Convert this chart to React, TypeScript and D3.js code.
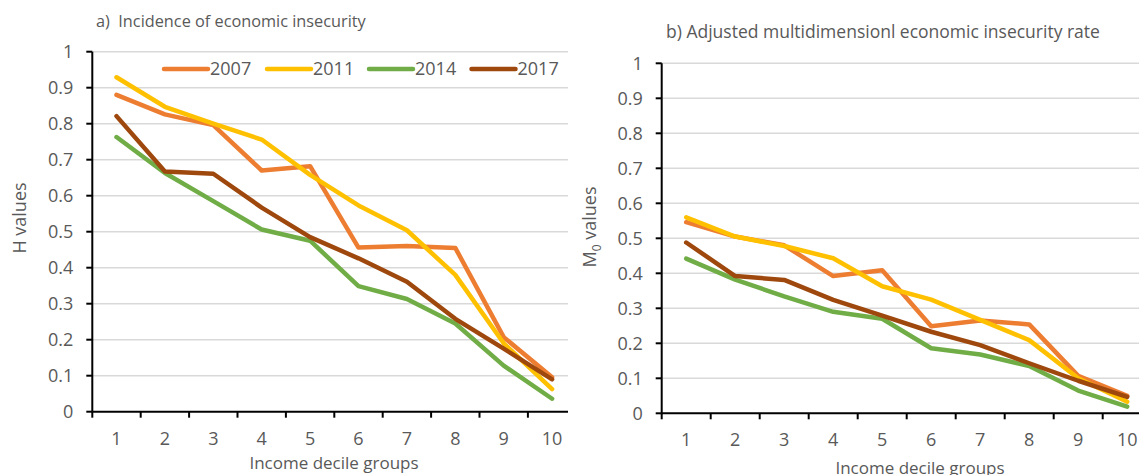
import React from "react";
import * as d3 from "d3";

const categories = ["1", "2", "3", "4", "5", "6", "7", "8", "9", "10"];
const years = ["2007", "2011", "2014", "2017"];
const yTicks = [0, 0.1, 0.2, 0.3, 0.4, 0.5, 0.6, 0.7, 0.8, 0.9, 1];

const h2007 = [0.88, 0.826, 0.796, 0.67, 0.682, 0.456, 0.46, 0.455, 0.207, 0.096];
const h2011 = [0.929, 0.847, 0.8, 0.756, 0.658, 0.573, 0.504, 0.38, 0.19, 0.063];
const h2014 = [0.763, 0.663, 0.585, 0.506, 0.475, 0.349, 0.313, 0.245, 0.128, 0.036];
const h2017 = [0.821, 0.667, 0.661, 0.567, 0.485, 0.426, 0.361, 0.258, 0.175, 0.09];

const m2007 = [0.546, 0.505, 0.48, 0.392, 0.409, 0.249, 0.265, 0.254, 0.107, 0.05];
const m2011 = [0.56, 0.505, 0.478, 0.443, 0.363, 0.325, 0.267, 0.209, 0.1, 0.033];
const m2014 = [0.442, 0.382, 0.334, 0.29, 0.27, 0.186, 0.168, 0.135, 0.065, 0.019];
const m2017 = [0.488, 0.392, 0.381, 0.324, 0.279, 0.233, 0.195, 0.143, 0.093, 0.047];

const colors = ["#ED7D31", "#FFC000", "#70AD47", "#9E480E"];
const FONT = "'Open Sans', 'DejaVu Sans', sans-serif";
const TXT = "#595959";

type PanelProps = {
  id: string;
  axisX: number;
  step: number;
  yTop: number;
  yBottom: number;
  clipRight: number;
  series: number[][];
  title: string;
  titleX: number;
  titleY: number;
  titleSize: number;
  yLabel: React.ReactNode;
  yLabelX: number;
  yLabelY: number;
  xLabelX: number;
  xLabelY: number;
  legend?: boolean;
};

function Panel(p: PanelProps) {
  const x = d3
    .scaleBand<string>()
    .domain(categories)
    .range([p.axisX, p.axisX + categories.length * p.step])
    .paddingInner(0)
    .paddingOuter(0);
  const y = d3.scaleLinear().domain([0, 1]).range([p.yBottom, p.yTop]);
  const cx = (c: string) => (x(c) as number) + x.bandwidth() / 2;
  const line = d3
    .line<number>()
    .x((_, i) => cx(categories[i]))
    .y((d) => y(d));
  const xEnd = p.axisX + categories.length * p.step;
  const boundaries = d3.range(categories.length + 1).map((k) => p.axisX + k * p.step);

  return (
    <g>
      <defs>
        <clipPath id={p.id}>
          <rect x={0} y={0} width={p.clipRight} height={475} />
        </clipPath>
      </defs>
      <text
        x={p.titleX}
        y={p.titleY}
        fontFamily={FONT}
        fontSize={p.titleSize}
        fill={TXT}
        style={{ whiteSpace: "pre" }}
      >
        {p.title}
      </text>
      <g clipPath={`url(#${p.id})`}>
        {yTicks.slice(1).map((t) => (
          <line key={t} x1={p.axisX} x2={xEnd} y1={y(t)} y2={y(t)} stroke="#D9D9D9" strokeWidth={1.5} />
        ))}
        {p.series.map((s, i) => (
          <path
            key={i}
            d={line(s) || ""}
            fill="none"
            stroke={colors[i]}
            strokeWidth={4.5}
            strokeLinejoin="round"
            strokeLinecap="round"
          />
        ))}
        <line x1={p.axisX} x2={xEnd} y1={p.yBottom} y2={p.yBottom} stroke="#000" strokeWidth={2} />
        {boundaries.map((b, k) => (
          <line key={k} x1={b} x2={b} y1={p.yBottom} y2={p.yBottom + 6} stroke="#000" strokeWidth={2} />
        ))}
        {categories.map((c) => (
          <text
            key={c}
            x={cx(c)}
            y={p.yBottom + 33}
            textAnchor="middle"
            fontFamily={FONT}
            fontSize={18}
            fill={TXT}
          >
            {c}
          </text>
        ))}
      </g>
      <line x1={p.axisX} x2={p.axisX} y1={p.yTop} y2={p.yBottom} stroke="#000" strokeWidth={2} />
      {yTicks.map((t) => (
        <g key={t}>
          <line x1={p.axisX - 6} x2={p.axisX} y1={y(t)} y2={y(t)} stroke="#000" strokeWidth={2} />
          <text
            x={p.axisX - 19}
            y={y(t)}
            dy="0.35em"
            textAnchor="end"
            fontFamily={FONT}
            fontSize={18}
            fill={TXT}
          >
            {String(t)}
          </text>
        </g>
      ))}
      <text
        transform={`translate(${p.yLabelX},${p.yLabelY}) rotate(-90)`}
        textAnchor="middle"
        dy="0.35em"
        fontFamily={FONT}
        fontSize={18}
        fill={TXT}
      >
        {p.yLabel}
      </text>
      <text x={p.xLabelX} y={p.xLabelY} textAnchor="middle" fontFamily={FONT} fontSize={17} fill={TXT}>
        Income decile groups
      </text>
      {p.legend &&
        years.map((yr, i) => {
          const lx = [162, 265, 367, 469.5][i];
          return (
            <g key={yr}>
              <line
                x1={lx + 2}
                x2={lx + 46}
                y1={69}
                y2={69}
                stroke={colors[i]}
                strokeWidth={4.5}
                strokeLinecap="round"
              />
              <text x={lx + 48} y={69} dy="0.35em" fontFamily={FONT} fontSize={18} fill={TXT}>
                {yr}
              </text>
            </g>
          );
        })}
    </g>
  );
}

export default function App() {
  return (
    <svg
      width={1139}
      height={475}
      style={{ position: "absolute", left: 0, top: 0, background: "#fff" }}
    >
      <rect x={0} y={0} width={1139} height={475} fill="#fff" />
      <Panel
        id="clipA"
        axisX={92.3}
        step={48.4}
        yTop={51.7}
        yBottom={411.7}
        clipRight={568}
        series={[h2007, h2011, h2014, h2017]}
        title={"a)\u00A0 Incidence of economic insecurity"}
        titleX={96}
        titleY={27}
        titleSize={16.3}
        yLabel="H values"
        yLabelX={20}
        yLabelY={218}
        xLabelX={334}
        xLabelY={469}
        legend
      />
      <Panel
        id="clipB"
        axisX={661.7}
        step={49}
        yTop={63.3}
        yBottom={413.3}
        clipRight={1139}
        series={[m2007, m2011, m2014, m2017]}
        title="b) Adjusted multidimensionl economic insecurity rate"
        titleX={666}
        titleY={38}
        titleSize={17.5}
        yLabel={
          <>
            M<tspan fontSize={12} dy="5">0</tspan>
            <tspan dy="-5"> values</tspan>
          </>
        }
        yLabelX={590}
        yLabelY={227}
        xLabelX={920}
        xLabelY={474}
      />
    </svg>
  );
}
